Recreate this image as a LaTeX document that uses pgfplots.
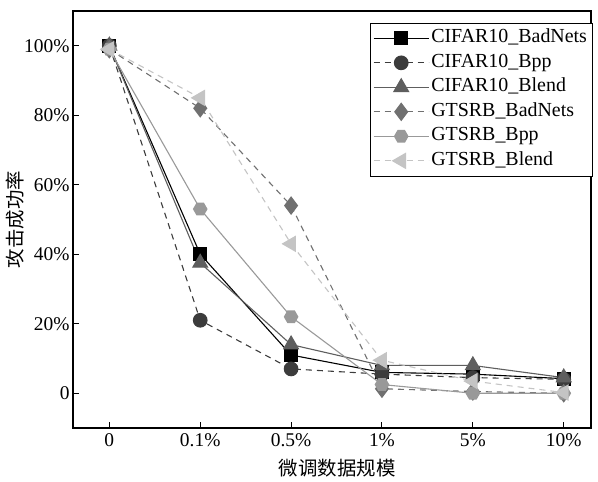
\documentclass[border=0pt]{standalone}
\usepackage{pgfplots}
\pgfplotsset{compat=1.18}
\usepackage{fontspec}
\setmainfont{Liberation Serif}
\newfontfamily\cjk{Noto Sans CJK SC}
\pgfdeclareplotmark{hexagon*}{%
  \pgfpathmoveto{\pgfqpointpolar{0}{1.05\pgfplotmarksize}}%
  \pgfpathlineto{\pgfqpointpolar{60}{1.05\pgfplotmarksize}}%
  \pgfpathlineto{\pgfqpointpolar{120}{1.05\pgfplotmarksize}}%
  \pgfpathlineto{\pgfqpointpolar{180}{1.05\pgfplotmarksize}}%
  \pgfpathlineto{\pgfqpointpolar{240}{1.05\pgfplotmarksize}}%
  \pgfpathlineto{\pgfqpointpolar{300}{1.05\pgfplotmarksize}}%
  \pgfpathclose\pgfusepathqfill}
\definecolor{c1}{HTML}{000000}
\definecolor{c2}{HTML}{3C3C3C}
\definecolor{c3}{HTML}{5E5E5E}
\definecolor{c4}{HTML}{707070}
\definecolor{c5}{HTML}{999999}
\definecolor{c6}{HTML}{C4C4C4}
\begin{document}
\begin{tikzpicture}[x=1bp,y=1bp]
\begin{axis}[
  at={(0,0)}, anchor=south west,
  scale only axis, width=518bp, height=417bp,
  xmin=-0.4, xmax=5.3, ymin=-10, ymax=110,
  xtick={0,1,2,3,4,5},
  xticklabels={0,0.1\%,0.5\%,1\%,5\%,10\%},
  ytick={0,20,40,60,80,100},
  yticklabels={0,20\%,40\%,60\%,80\%,100\%},
  tick align=inside, tick pos=left,
  major tick length=6bp,
  axis line style={line width=1.3bp},
  every tick/.style={line width=1bp, black},
  tick label style={font=\fontsize{19.5}{22}\selectfont},
  xticklabel style={yshift=-2bp},
  xlabel={\cjk 微调数据规模}, ylabel={\cjk 攻击成功率},
  xlabel style={font=\fontsize{19.5}{22}\selectfont, at={(axis description cs:0.51,-0.096)}, anchor=center},
  ylabel style={font=\fontsize{19.5}{22}\selectfont, at={(axis description cs:-0.112,0.5)}, anchor=center},
  legend cell align=left,
  legend style={at={(1,0.971)}, xshift=1bp, anchor=north east, draw=black, line width=1bp, outer sep=0bp,
    font=\fontsize{20}{22}\selectfont, inner sep=3bp, row sep=0bp,
    nodes={inner sep=2bp, text height=14.5bp, text depth=6bp}},
  legend image code/.code={\draw[#1, mark repeat=2, mark phase=2] plot coordinates {(0bp,0bp) (27.5bp,0bp) (55bp,0bp)};},
  every axis plot/.append style={line width=1.1bp},
]
\addplot[c1, solid, mark=square*, mark size=6.5bp, mark options={solid}] coordinates {(0,100) (1,40) (2,11) (3,6) (4,5.5) (5,4.2)};
\addlegendentry{CIFAR10\_BadNets}
\addplot[c2, dash pattern=on 6bp off 5bp, mark=*, mark size=6.8bp, mark options={solid}] coordinates {(0,100) (1,21) (2,7) (3,5.5) (4,4.5) (5,4)};
\addlegendentry{CIFAR10\_Bpp}
\addplot[c3, solid, mark=triangle*, mark size=8.5bp, mark options={solid}] coordinates {(0,100) (1,37.5) (2,14) (3,8) (4,8) (5,4.5)};
\addlegendentry{CIFAR10\_Blend}
\addplot[c4, dash pattern=on 6bp off 5bp, mark=diamond*, mark size=8.5bp, mark options={solid}] coordinates {(0,99) (1,82) (2,54) (3,1.3) (4,0.5) (5,0)};
\addlegendentry{GTSRB\_BadNets}
\addplot[c5, solid, mark=hexagon*, mark size=7bp, mark options={solid}] coordinates {(0,99) (1,53) (2,22) (3,2.5) (4,0) (5,0)};
\addlegendentry{GTSRB\_Bpp}
\addplot[c6, dash pattern=on 6bp off 5bp, mark=triangle*, mark size=8.5bp, mark options={solid, rotate=90}] coordinates {(0,99) (1,85) (2,43) (3,9.5) (4,3.5) (5,0.2)};
\addlegendentry{GTSRB\_Blend}
\end{axis}
\pgfresetboundingbox
\path[use as bounding box] (-73bp,-54bp) rectangle (525bp,428bp);
\end{tikzpicture}
\end{document}
